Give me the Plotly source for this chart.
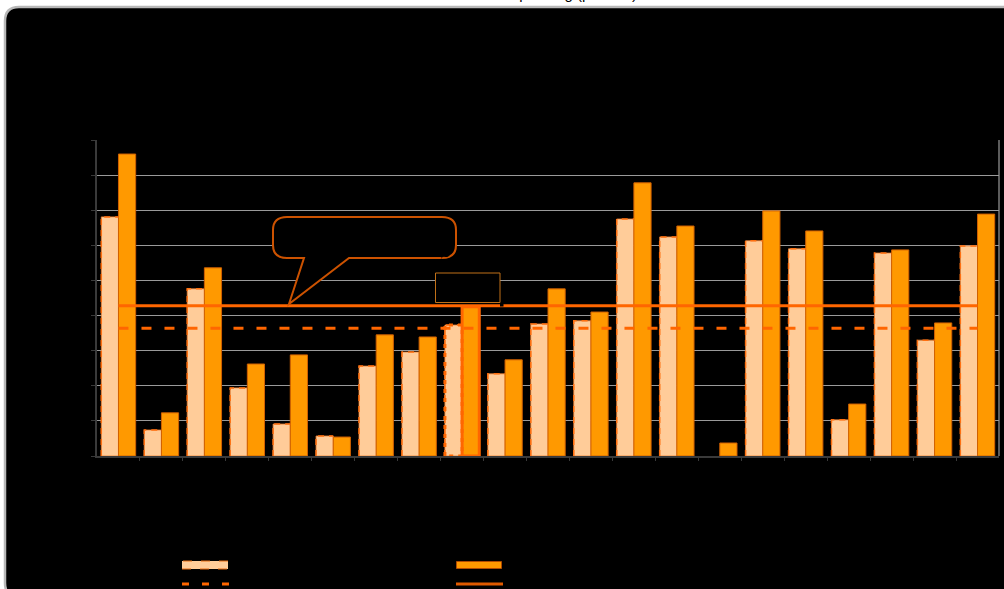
import plotly.graph_objects as go

# ---- data -------------------------------------------------------------
categories = ["BE", "BG", "CZ", "DK", "DE", "EE", "IE", "EL", "ES", "FR", "HR",
              "IT", "CY", "LV", "LT", "LU", "HU", "MT", "NL", "AT", "PL"]
series_2011 = [6.81, 0.74, 4.76, 1.94, 0.91, 0.57, 2.56, 2.96, 3.73, 2.34, 3.76,
               3.85, 6.75, 6.24, 0.00, 6.13, 5.90, 1.03, 5.78, 3.30, 5.98]
series_2021 = [8.60, 1.23, 5.36, 2.62, 2.88, 0.54, 3.45, 3.39, 4.25, 2.74, 4.76,
               4.10, 7.78, 6.55, 0.37, 6.98, 6.41, 1.48, 5.87, 3.79, 6.89]
avg_2011 = 3.64
avg_2021 = 4.28
highlight = "ES"
y_ticks = [0, 1, 2, 3, 4, 5, 6, 7, 8, 9]

LIGHT = "#FFCC99"
ORANGE = "#FF9900"
RED_OR = "#FF6600"
BROWN = "#CC5200"

idx = list(range(len(categories)))
hi = categories.index(highlight)

# plot-area geometry in pixels (used to place decorations in paper space)
W, H = 1004, 589
L, R, T, B = 97, 5, 140, 133
PW, PH = W - L - R, H - T - B


def px(x):
    return (x - L) / PW


def py(y):
    return (H - B - y) / PH


fig = go.Figure()

# bars
fig.add_trace(go.Bar(
    x=idx, y=series_2011, name="2011",
    marker=dict(color=LIGHT,
                line=dict(color="#F08030",
                          width=[0.8 if v > 0 else 0 for v in series_2011])),
    showlegend=False,
))
fig.add_trace(go.Bar(
    x=idx, y=series_2021, name="2021",
    marker=dict(color=ORANGE,
                line=dict(color=[RED_OR if i == hi else "#D06000" for i in idx],
                          width=[3 if i == hi else 1 for i in idx])),
    showlegend=False,
))

# dashed outline on the left/top edge of the light bars
ox, oy = [], []
for i, v in zip(idx, series_2011):
    if v <= 0:
        continue
    ox += [i - 0.4, i - 0.4, i, None]
    oy += [0, v, v, None]
fig.add_trace(go.Scatter(x=ox, y=oy, mode="lines", hoverinfo="skip",
                         line=dict(color="#FF7010", width=1.5, dash="6px,5px"),
                         showlegend=False))
# highlighted light bar: heavier dashed outline
v = series_2011[hi]
fig.add_trace(go.Scatter(x=[hi - 0.4, hi - 0.4, hi, hi, hi - 0.4],
                         y=[0, v, v, 0, 0], mode="lines", hoverinfo="skip",
                         line=dict(color=RED_OR, width=3, dash="4px,5px"),
                         showlegend=False))

# average lines
fig.add_trace(go.Scatter(x=idx, y=[avg_2011] * len(idx), mode="lines",
                         line=dict(color=RED_OR, width=3, dash="10px,13px"),
                         name="Ø 2011", showlegend=False))
fig.add_trace(go.Scatter(x=idx, y=[avg_2021] * len(idx), mode="lines",
                         line=dict(color=RED_OR, width=3),
                         name="Ø 2021", showlegend=False))

shapes = []
annotations = []

# rounded black frame behind everything
x0, x1 = px(5), px(1030)
yt, yb = py(7), py(597)
rx, ry = 14 / PW, 14 / PH
frame = (f"M {x0+rx},{yt} L {x1-rx},{yt} Q {x1},{yt} {x1},{yt-ry} "
         f"L {x1},{yb+ry} Q {x1},{yb} {x1-rx},{yb} L {x0+rx},{yb} "
         f"Q {x0},{yb} {x0},{yb+ry} L {x0},{yt-ry} Q {x0},{yt} {x0+rx},{yt} Z")
shapes.append(dict(type="path", path=frame, xref="paper", yref="paper",
                   fillcolor="black", line=dict(color="#B8B8B8", width=2.5),
                   layer="below"))
# right border of plot area
shapes.append(dict(type="line", xref="paper", yref="paper", x0=1, x1=1, y0=0, y1=1,
                   line=dict(color="#9A9A9A", width=1.2)))

# callout bubble pointing at the 2021 average
bx0, bx1, byt, byb = px(273), px(456), py(217), py(258)
brx, bry = 14 / PW, 13 / PH
tip_x, tip_y = px(289), py(304)
t1, t2 = px(304), px(349)
bubble = (f"M {bx0+brx},{byt} L {bx1-brx},{byt} Q {bx1},{byt} {bx1},{byt-bry} "
          f"L {bx1},{byb+bry} Q {bx1},{byb} {bx1-brx},{byb} L {t2},{byb} "
          f"L {tip_x},{tip_y} L {t1},{byb} L {bx0+brx},{byb} "
          f"Q {bx0},{byb} {bx0},{byb+bry} L {bx0},{byt-bry} Q {bx0},{byt} {bx0+brx},{byt} Z")
shapes.append(dict(type="path", path=bubble, xref="paper", yref="paper",
                   fillcolor="black", line=dict(color=BROWN, width=2), layer="above"))
annotations.append(dict(x=(bx0 + bx1) / 2, y=py(244), xref="paper", yref="paper",
                        text="Ø EU 2021: 4,3", showarrow=False,
                        font=dict(family="Liberation Sans", size=12, color="black")))

# label box above the highlighted group
shapes.append(dict(type="rect", xref="paper", yref="paper",
                   x0=px(435.5), x1=px(500), y0=py(302.5), y1=py(273),
                   fillcolor="black", line=dict(color="#C07018", width=1),
                   layer="above"))
shapes.append(dict(type="rect", xref="paper", yref="paper",
                   x0=px(500), x1=px(503.5), y0=py(306.5), y1=py(303),
                   fillcolor="black", line=dict(width=0), layer="above"))
annotations.append(dict(x=px(467.75), y=py(288), xref="paper", yref="paper",
                        text="ES", showarrow=False,
                        font=dict(family="Liberation Sans", size=12, color="black")))

# legend drawn as shapes + labels
shapes += [
    dict(type="rect", xref="paper", yref="paper", x0=px(182), x1=px(228),
         y0=py(569), y1=py(561), fillcolor=LIGHT,
         line=dict(color="#E86A10", width=1, dash="dash")),
    dict(type="rect", xref="paper", yref="paper", x0=px(456.5), x1=px(501.5),
         y0=py(568.5), y1=py(561.5), fillcolor=ORANGE,
         line=dict(color="#B04A00", width=1)),
    dict(type="line", xref="paper", yref="paper", x0=px(182), x1=px(229),
         y0=py(584), y1=py(584), line=dict(color=RED_OR, width=3, dash="7px,13px")),
    dict(type="line", xref="paper", yref="paper", x0=px(456), x1=px(503),
         y0=py(584), y1=py(584), line=dict(color="#E05A00", width=3)),
]
for lx, ly, txt in [(236, 565, "2011"), (510, 565, "2021"),
                    (236, 584, "Ø 2011"), (510, 584, "Ø 2021")]:
    annotations.append(dict(x=px(lx), y=py(ly), xref="paper", yref="paper",
                            xanchor="left", text=txt, showarrow=False,
                            font=dict(family="Liberation Sans", size=12, color="black")))

# title (sits at the very top edge of the page)
annotations.append(dict(x=px(639), y=py(3.6), xref="paper", yref="paper",
                        xanchor="right", yanchor="bottom",
                        text="R&amp;D spending (percent)", showarrow=False,
                        font=dict(family="Liberation Sans", size=15, color="black")))

fig.update_layout(
    width=W, height=H,
    margin=dict(l=L, r=R, t=T, b=B),
    paper_bgcolor="white",
    plot_bgcolor="rgba(0,0,0,0)",
    barmode="group", bargap=0.2, bargroupgap=0,
    shapes=shapes, annotations=annotations,
    showlegend=False,
    font=dict(family="Liberation Sans", size=12, color="black"),
    xaxis=dict(range=[-0.5, len(categories) - 0.5], tickvals=idx, ticktext=categories,
               tickangle=-90, showgrid=False, zeroline=False,
               showline=True, linecolor="#3A3A3A", linewidth=1.5,
               ticks="", tickfont=dict(color="black", size=12),
               minor=dict(tickvals=[i + 0.5 for i in idx[:-1]], ticks="outside",
                          ticklen=3, tickcolor="#3A3A3A")),
    yaxis=dict(range=[0, 9], tickvals=y_ticks, showgrid=True, gridcolor="#9A9A9A",
               gridwidth=1, zeroline=False, showline=True, linecolor="#3A3A3A",
               linewidth=1.5, ticks="outside", ticklen=4, tickcolor="#3A3A3A",
               tickfont=dict(color="black", size=12)),
)

fig.write_html("out.html")
